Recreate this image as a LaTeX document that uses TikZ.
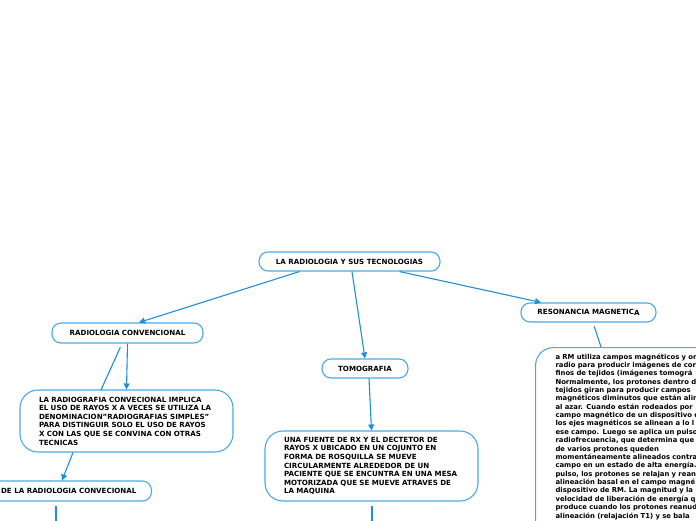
\documentclass[tikz,border=0pt]{standalone}
\usepackage{fontspec}
\setmainfont{DejaVu Sans}
\usetikzlibrary{arrows.meta, positioning}
\definecolor{mmline}{HTML}{1E8FDB}
\definecolor{mmborder}{HTML}{4AAAE8}
\tikzset{
  topic/.style={rectangle, rounded corners=9pt, draw=mmborder, line width=1.1pt,
    fill=white, align=center, font=\fontsize{7.1}{8}\selectfont\bfseries,
    minimum height=19pt, inner sep=0pt},
  textbox/.style={rectangle, rounded corners=18pt, draw=mmborder, line width=1.1pt,
    fill=white, align=left, font=\fontsize{7.1}{8.6}\selectfont\bfseries,
    text width=175pt, minimum width=213pt, inner xsep=0pt},
  ar/.style={-{Triangle[length=6pt, width=6pt]}, mmline, line width=1.1pt},
  ln/.style={mmline, line width=1.1pt},
}

\begin{document}
\begin{tikzpicture}[x=1pt, y=-1pt]
  \useasboundingbox (0,0) rectangle (696,520);

  % main topic and the three branches
  \node[topic, minimum width=181pt] (root) at (349.5,261.5) {LA RADIOLOGIA Y SUS TECNOLOGIAS};
  \node[topic, minimum width=151pt, minimum height=20pt] (rc) at (127.5,333) {RADIOLOGIA CONVENCIONAL};
  \node[topic, minimum width=86pt] (tomo) at (365,368.5) {TOMOGRAFIA};
  \node[topic, minimum width=135pt] (rm) at (588.5,312.5) {RESONANCIA MAGNETIC\raisebox{-0.6pt}{A}};

  % detail boxes
  \node[textbox, minimum height=62pt] (rctext) at (126.5,421)
    {LA RADIOGRAFIA CONVECIONAL IMPLICA\\
     EL USO DE RAYOS X A VECES SE UTILIZA LA\\
     DENOMINACION"RADIOGRAFIAS SIMPLES"\\
     PARA DISTINGUIR SOLO EL USO DE RAYOS\\
     X CON LAS QUE SE CONVINA CON OTRAS\\
     TECNICAS};
  \node[textbox, minimum height=70pt] (tomotext) at (371.5,466)
    {UNA FUENTE DE RX Y EL DECTETOR DE\\
     RAYOS X UBICADO EN UN COJUNTO EN\\
     FORMA DE ROSQUILLA SE MUEVE\\
     CIRCULARMENTE ALREDEDOR DE UN\\
     PACIENTE QUE SE ENCUNTRA EN UNA MESA\\
     MOTORIZADA QUE SE MUEVE ATRAVES DE\\
     LA MAQUINA};
  \node[textbox, anchor=north west, text width=230pt, minimum width=270pt,
        inner ysep=6pt, font=\fontsize{6.85}{8.37}\selectfont\bfseries] (rmtext) at (535,347)
    {\parbox[t][200pt][t]{230pt}{%
     a RM utiliza campos magnéticos y on\\
     radio para producir imágenes de cor\\
     finos de tejidos (imágenes tomográ\\
     Normalmente, los protones dentro d\\
     tejidos giran para producir campos\\
     magnéticos diminutos que están alin\\
     al azar. Cuando están rodeados por\\
     campo magnético de un dispositivo d\\
     los ejes magnéticos se alinean a lo l\\
     ese campo. Luego se aplica un pulso\\
     radiofrecuencia, que determina que\\
     de varios protones queden\\
     momentáneamente alineados contra\\
     campo en un estado de alta energía.\\
     pulso, los protones se relajan y rean\\
     alineación basal en el campo magné\\
     dispositivo de RM. La magnitud y la\\
     velocidad de liberación de energía q\\
     produce cuando los protones reanud\\
     alineación (relajación T1) y se bala}};
  \node[topic, anchor=east, minimum height=20pt, inner xsep=15pt] (rcchar) at (152,491)
    {DE LA RADIOLOGIA CONVECIONAL};

  % free ends
  \coordinate (rcfork) at (101,390);
  \coordinate (rcdown) at (56,530);
  \coordinate (tomodown) at (372,530);

  \draw[ar] ([xshift=-50pt]root.south) -- ([xshift=11.5pt]rc.north);
  \draw[ar] ([xshift=2.5pt]root.south) -- (tomo.north);
  \draw[ar] ([xshift=50pt]root.south)  -- ([xshift=-47.5pt]rm.north);
  \draw[ar] (rc.south) -- (rctext.north);
  \draw[ln, shorten <=4pt] ([xshift=-5.5pt]rc.south) -- (rcfork);
  \draw[ar] ([xshift=-53.5pt]rctext.south) -- ([xshift=-90pt]rcchar.north east);
  \draw[ln, shorten <=4pt] ([xshift=-96pt]rcchar.south east) -- (rcdown);
  \draw[ar] ([xshift=4pt]tomo.south) -- (tomotext.north);
  \draw[ln, shorten <=4pt] ([xshift=0.5pt]tomotext.south) -- (tomodown);
  \draw[ln, shorten <=4pt] ([xshift=4.5pt]rm.south) -- ([xshift=66pt]rmtext.north west);
\end{tikzpicture}
\end{document}
